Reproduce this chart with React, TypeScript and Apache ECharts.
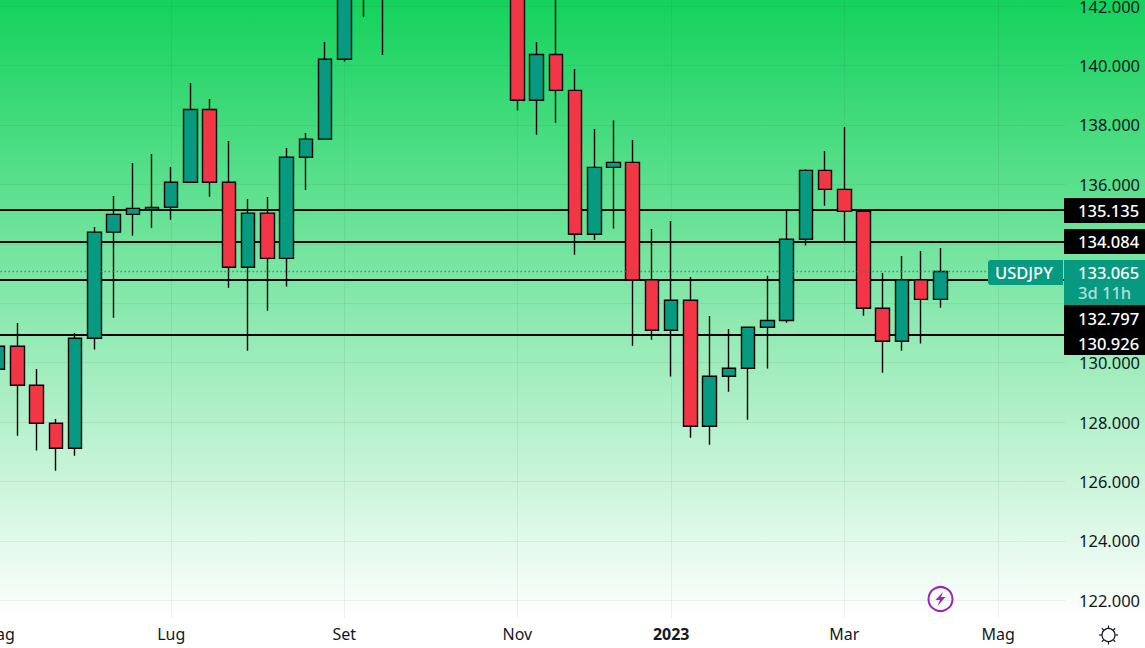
import * as echarts from "echarts";
import { useEffect, useRef } from "react";

// weekly candles, first one is the week of 2 May 2022
const weeks = [
  "2022-05-02", "2022-05-09", "2022-05-16", "2022-05-23", "2022-05-30", "2022-06-06", "2022-06-13", "2022-06-20",
  "2022-06-27", "2022-07-04", "2022-07-11", "2022-07-18", "2022-07-25", "2022-08-01", "2022-08-08", "2022-08-15",
  "2022-08-22", "2022-08-29", "2022-09-05", "2022-09-12", "2022-09-19", "2022-09-26", "2022-10-03", "2022-10-10",
  "2022-10-17", "2022-10-24", "2022-10-31", "2022-11-07", "2022-11-14", "2022-11-21", "2022-11-28", "2022-12-05",
  "2022-12-12", "2022-12-19", "2022-12-26", "2023-01-02", "2023-01-09", "2023-01-16", "2023-01-23", "2023-01-30",
  "2023-02-06", "2023-02-13", "2023-02-20", "2023-02-27", "2023-03-06", "2023-03-13", "2023-03-20", "2023-03-27",
  "2023-04-03", "2023-04-10", "2023-04-17", "2023-04-24", "2023-05-01", "2023-05-08", "2023-05-15", "2023-05-22",
];

const opens = [
  129.78, 130.55, 129.24, 127.96, 127.12, 130.82, 134.39, 134.99, 135.15, 135.23,
  136.07, 138.52, 136.07, 133.21, 135.03, 133.51, 136.91, 137.52, 140.21, 142.5,
  143.0, 143.3, 144.7, 145.3, 148.7, 147.7, 147.5, 146.6, 138.83, 140.37,
  139.16, 134.32, 136.57, 136.74, 132.79, 131.09, 132.1, 127.86, 129.54, 129.81,
  131.19, 131.42, 134.15, 136.47, 135.83, 135.09, 131.83, 130.72, 132.79, 132.13,
];
const closes = [
  130.55, 129.24, 127.96, 127.12, 130.82, 134.39, 134.99, 135.19, 135.22, 136.07,
  138.52, 136.07, 133.21, 135.03, 133.51, 136.91, 137.52, 140.21, 142.5, 143.0,
  143.3, 144.7, 145.3, 148.7, 147.7, 147.5, 146.6, 138.83, 140.37, 139.16,
  134.32, 136.57, 136.74, 132.79, 131.09, 132.1, 127.86, 129.54, 129.81, 131.19,
  131.42, 134.15, 136.47, 135.83, 135.09, 131.83, 130.72, 132.79, 132.13, 133.065,
];
const lows = [
  128.6, 127.54, 127.04, 126.36, 126.87, 130.44, 131.51, 134.27, 134.54, 134.81,
  136.05, 135.58, 132.52, 130.4, 131.75, 132.56, 135.81, 137.5, 140.13, 141.64,
  140.35, 143.3, 144.0, 145.2, 146.2, 145.1, 145.7, 138.48, 137.67, 138.07,
  133.63, 134.13, 134.51, 130.57, 130.77, 129.53, 127.47, 127.24, 129.02, 128.08,
  129.8, 131.34, 133.94, 135.28, 134.1, 131.58, 129.66, 130.4, 130.64, 131.85,
];
const highs = [
  131.3, 131.33, 129.79, 128.1, 131.0, 134.56, 135.61, 136.72, 137.02, 136.58,
  139.41, 138.87, 137.46, 135.51, 135.57, 137.22, 137.73, 140.79, 144.99, 144.95,
  145.9, 145.0, 145.9, 148.9, 151.9, 149.7, 148.8, 147.6, 140.79, 142.3,
  139.88, 137.86, 138.16, 137.49, 134.5, 134.77, 132.88, 131.57, 131.13, 131.19,
  132.92, 135.14, 136.51, 137.12, 137.93, 135.14, 133.02, 133.59, 133.76, 133.86,
];

const monthTickIndices = [0, 9, 18, 27, 35, 44, 52];
const monthLabels = ["Mag", "Lug", "Set", "Nov", "2023", "Mar", "Mag"];
const priceTicks = [122, 124, 126, 128, 130, 132, 134, 136, 138, 140, 142];
// 132 and 134 sit behind the price tags on the axis
const priceLabels = [122, 124, 126, 128, 130, 136, 138, 140, 142];
const levels = [135.135, 134.084, 132.797, 130.926];
const lastPrice = 133.065;

const UP = "#089981";
const DOWN = "#F23645";
const FONT = "'Noto Sans', sans-serif";

const sunRays = [0, 45, 90, 135, 180, 225, 270, 315];

function priceTag(value: number, top: number, height: number) {
  return [
    { type: "rect", z: 100, shape: { x: 1064, y: top, width: 81, height }, style: { fill: "#000" } },
    {
      type: "text",
      z: 101,
      x: 1078,
      y: top + height / 2,
      style: { text: value.toFixed(3), fill: "#fff", font: `500 16.5px ${FONT}`, textVerticalAlign: "middle" },
    },
  ];
}

export default function App() {
  const containerRef = useRef<HTMLDivElement | null>(null);

  useEffect(() => {
    document.body.style.margin = "0";
    const target = containerRef.current;
    if (target === null) return;

    const chart = echarts.init(target, null, { renderer: "svg" });

    chart.setOption({
      animation: false,
      backgroundColor: new echarts.graphic.LinearGradient(0, 0, 0, 1, [
        { offset: 0, color: "#14D25C" },
        { offset: 0.955, color: "#FFFFFF" },
        { offset: 1, color: "#FFFFFF" },
      ]),
      grid: { left: -11.47, top: 0, width: 1076.88, height: 618, outerBoundsMode: "none" },
      xAxis: {
        type: "category",
        data: weeks,
        axisLine: { show: false },
        axisTick: { show: false },
        axisLabel: {
          interval: (index: number) => monthTickIndices.includes(index),
          formatter: (_: string, index: number) => {
            const label = monthLabels[monthTickIndices.indexOf(index)];
            return label === "2023" ? `{bold|${label}}` : label;
          },
          color: "#131722",
          fontFamily: FONT,
          fontSize: 16,
          margin: 8,
          rich: { bold: { fontWeight: "bold", fontFamily: FONT, fontSize: 16, color: "#131722" } },
        },
        splitLine: {
          show: true,
          alignWithLabel: true,
          interval: (index: number) => monthTickIndices.includes(index),
          lineStyle: { color: "rgba(42, 46, 57, 0.07)", width: 1 },
        },
      },
      yAxis: {
        type: "value",
        position: "right",
        min: 121.408,
        max: 142.202,
        scale: true,
        axisLine: { show: false },
        axisTick: { show: false, customValues: priceTicks },
        axisLabel: {
          customValues: priceLabels,
          formatter: (v: number) => v.toFixed(3),
          color: "#131722",
          fontFamily: FONT,
          fontSize: 16.5,
          margin: 13.6,
          align: "left",
        },
        splitLine: { show: true, lineStyle: { color: "rgba(42, 46, 57, 0.07)", width: 1 } },
      },
      series: [
        {
          type: "line",
          data: [],
          silent: true,
          markLine: {
            silent: true,
            z: 1,
            symbol: "none",
            animation: false,
            label: { show: false },
            lineStyle: { color: "#000", width: 2, type: "solid" },
            data: levels.map((yAxis) => ({ yAxis })),
          },
        },
        {
          type: "candlestick",
          barWidth: 14,
          z: 2,
          data: opens.map((open, i) => [open, closes[i], lows[i], highs[i]]),
          itemStyle: { color: UP, color0: DOWN, borderColor: "#000", borderColor0: "#000", borderWidth: 1.4 },
          markLine: {
            silent: true,
            symbol: "none",
            animation: false,
            label: { show: false },
            lineStyle: { color: UP, width: 1.3, type: [1.3, 2.7] },
            data: [{ yAxis: lastPrice }],
          },
        },
      ],
      graphic: [
        ...priceTag(levels[0], 198, 25),
        ...priceTag(levels[1], 229, 25),
        ...priceTag(levels[2], 305, 26),
        ...priceTag(levels[3], 331, 24),
        { type: "rect", z: 100, shape: { x: 1064, y: 260, width: 81, height: 45 }, style: { fill: UP } },
        {
          type: "text",
          z: 101,
          x: 1078,
          y: 272.5,
          style: { text: lastPrice.toFixed(3), fill: "#fff", font: `500 16.5px ${FONT}`, textVerticalAlign: "middle" },
        },
        {
          type: "text",
          z: 101,
          x: 1078,
          y: 292.5,
          style: { text: "3d 11h", fill: "rgba(255,255,255,0.7)", font: `500 16.5px ${FONT}`, textVerticalAlign: "middle" },
        },
        { type: "rect", z: 100, shape: { x: 988, y: 260, width: 75, height: 25, r: [3, 0, 0, 3] }, style: { fill: UP } },
        {
          type: "text",
          z: 101,
          x: 995,
          y: 272.5,
          style: { text: "USDJPY", fill: "#fff", font: `500 16.5px ${FONT}`, textVerticalAlign: "middle" },
        },
        {
          type: "group",
          x: 940.5,
          y: 599,
          z: 100,
          children: [
            { type: "circle", shape: { cx: 0, cy: 0, r: 12 }, style: { fill: "none", stroke: "#9C27B0", lineWidth: 2 } },
            {
              type: "polygon",
              shape: { points: [[2.5, -7], [-5, 1], [-0.5, 1], [-3, 7], [5, -2], [0.5, -2]] },
              style: { fill: "#9C27B0" },
            },
          ],
        },
        {
          type: "group",
          x: 1108.5,
          y: 635,
          z: 100,
          children: [
            { type: "circle", shape: { cx: 0, cy: 0, r: 6.5 }, style: { fill: "none", stroke: "#131722", lineWidth: 1.2 } },
            ...sunRays.map((deg) => {
              const a = (deg * Math.PI) / 180;
              return {
                type: "line",
                shape: { x1: 6.5 * Math.cos(a), y1: 6.5 * Math.sin(a), x2: 9.5 * Math.cos(a), y2: 9.5 * Math.sin(a) },
                style: { stroke: "#131722", lineWidth: 1.2 },
              };
            }),
          ],
        },
      ],
    });

    return () => {
      chart.dispose();
    };
  }, []);

  return <div ref={containerRef} style={{ width: 1145, height: 648 }} />;
}
